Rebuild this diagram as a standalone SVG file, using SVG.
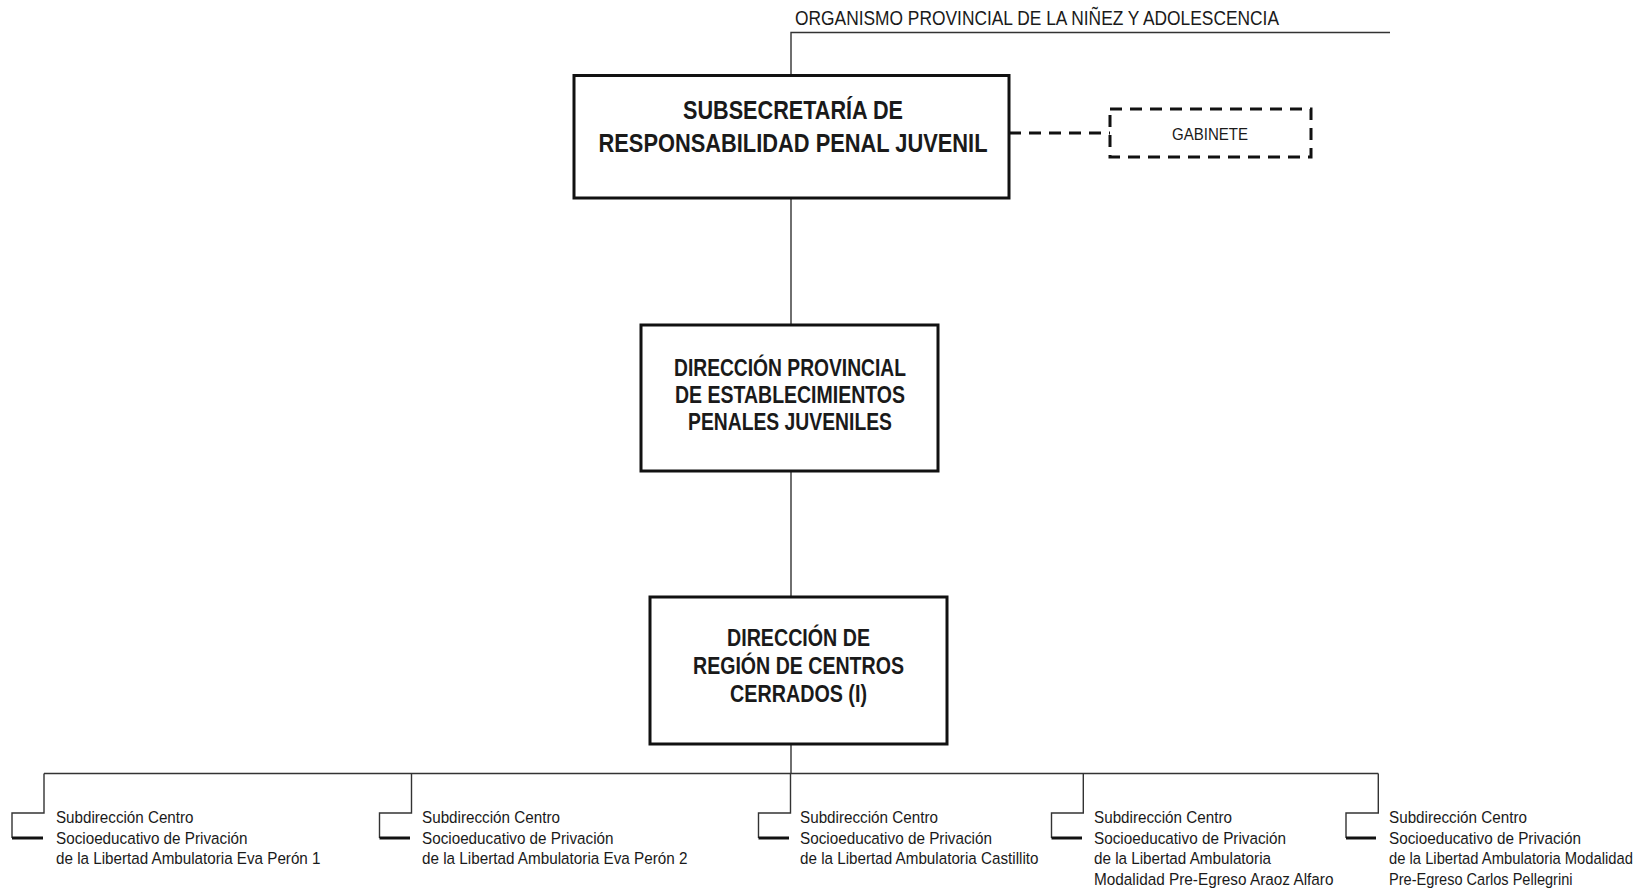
<svg xmlns="http://www.w3.org/2000/svg" width="1645" height="891" viewBox="0 0 1645 891">
<style>
.bg{fill:#ffffff}
.box{fill:#ffffff;stroke:#111;stroke-width:3}
.dbox{fill:#ffffff;stroke:#111;stroke-width:3;stroke-dasharray:12 8}
.ln{fill:none;stroke:#333;stroke-width:1.4}
.dl{fill:none;stroke:#111;stroke-width:3;stroke-dasharray:12 8}
.tk{fill:none;stroke:#111;stroke-width:3}
.t{font-family:"Liberation Sans",Arial,sans-serif;fill:#1a1a1a}
.b{font-family:"Liberation Sans",Arial,sans-serif;font-weight:bold;fill:#1a1a1a;text-anchor:middle}
.s{font-family:"Liberation Sans",Arial,sans-serif;fill:#1a1a1a;font-size:16.8px}
</style>
<rect class="bg" x="0" y="0" width="1645" height="891"/>
<g id="connectors">
  <path class="ln" d="M791,75.5 V32.5 H1390"/>
  <path class="ln" d="M791,198 V325"/>
  <path class="ln" d="M791,471 V597"/>
  <path class="ln" d="M791,744 V773.5"/>
  <path class="dl" d="M1009,133 H1110"/>
  <path class="ln" d="M44,773.5 H1378.3"/>
  <path class="ln" d="M44,773.5 V813 H12 V838"/>
  <path class="tk" d="M12,838 H43"/>
  <path class="ln" d="M411.5,773.5 V813 H379.5 V838"/>
  <path class="tk" d="M379.5,838 H410"/>
  <path class="ln" d="M790.5,773.5 V813 H758.5 V838"/>
  <path class="tk" d="M758.5,838 H789"/>
  <path class="ln" d="M1083.3,773.5 V813 H1051.5 V838"/>
  <path class="tk" d="M1051.5,838 H1082"/>
  <path class="ln" d="M1378.3,773.5 V813 H1346 V838"/>
  <path class="tk" d="M1346,838 H1376"/>
</g>
<g id="organismo">
  <text class="t" x="795" y="25" font-size="20" textLength="484" lengthAdjust="spacingAndGlyphs">ORGANISMO PROVINCIAL DE LA NIÑEZ Y ADOLESCENCIA</text>
</g>
<g id="subsecretaria">
  <rect class="box" x="574" y="75.5" width="435" height="122.5"/>
  <text class="b" x="793" y="118.5" font-size="26" textLength="220" lengthAdjust="spacingAndGlyphs">SUBSECRETARÍA DE</text>
  <text class="b" x="793" y="152" font-size="26" textLength="389" lengthAdjust="spacingAndGlyphs">RESPONSABILIDAD PENAL JUVENIL</text>
</g>
<g id="gabinete">
  <rect class="dbox" x="1110" y="109" width="201" height="48"/>
  <text class="t" x="1210" y="139.5" font-size="16" text-anchor="middle" textLength="76" lengthAdjust="spacingAndGlyphs">GABINETE</text>
</g>
<g id="direccion-provincial">
  <rect class="box" x="641" y="325" width="297" height="146"/>
  <text class="b" x="790" y="375.6" font-size="23" textLength="232" lengthAdjust="spacingAndGlyphs">DIRECCIÓN PROVINCIAL</text>
  <text class="b" x="790" y="403" font-size="23" textLength="230" lengthAdjust="spacingAndGlyphs">DE ESTABLECIMIENTOS</text>
  <text class="b" x="790" y="430" font-size="23" textLength="204" lengthAdjust="spacingAndGlyphs">PENALES JUVENILES</text>
</g>
<g id="direccion-region">
  <rect class="box" x="650" y="597" width="297" height="147"/>
  <text class="b" x="798.5" y="646" font-size="23" textLength="143" lengthAdjust="spacingAndGlyphs">DIRECCIÓN DE</text>
  <text class="b" x="798.5" y="673.5" font-size="23" textLength="211" lengthAdjust="spacingAndGlyphs">REGIÓN DE CENTROS</text>
  <text class="b" x="798.5" y="701.5" font-size="23" textLength="137" lengthAdjust="spacingAndGlyphs">CERRADOS (I)</text>
</g>
<g id="sub1">
  <text class="s" x="56" y="823" textLength="137.5" lengthAdjust="spacingAndGlyphs">Subdirección Centro</text>
  <text class="s" x="56" y="843.5" textLength="191.5" lengthAdjust="spacingAndGlyphs">Socioeducativo de Privación</text>
  <text class="s" x="56" y="864" textLength="264.5" lengthAdjust="spacingAndGlyphs">de la Libertad Ambulatoria Eva Perón 1</text>
</g>
<g id="sub2">
  <text class="s" x="422" y="823" textLength="138" lengthAdjust="spacingAndGlyphs">Subdirección Centro</text>
  <text class="s" x="422" y="843.5" textLength="191.5" lengthAdjust="spacingAndGlyphs">Socioeducativo de Privación</text>
  <text class="s" x="422" y="864" textLength="265.5" lengthAdjust="spacingAndGlyphs">de la Libertad Ambulatoria Eva Perón 2</text>
</g>
<g id="sub3">
  <text class="s" x="800" y="823" textLength="138" lengthAdjust="spacingAndGlyphs">Subdirección Centro</text>
  <text class="s" x="800" y="843.5" textLength="192" lengthAdjust="spacingAndGlyphs">Socioeducativo de Privación</text>
  <text class="s" x="800" y="864" textLength="238.5" lengthAdjust="spacingAndGlyphs">de la Libertad Ambulatoria Castillito</text>
</g>
<g id="sub4">
  <text class="s" x="1094" y="823" textLength="138" lengthAdjust="spacingAndGlyphs">Subdirección Centro</text>
  <text class="s" x="1094" y="843.5" textLength="192" lengthAdjust="spacingAndGlyphs">Socioeducativo de Privación</text>
  <text class="s" x="1094" y="864" textLength="177" lengthAdjust="spacingAndGlyphs">de la Libertad Ambulatoria</text>
  <text class="s" x="1094" y="885" textLength="239.5" lengthAdjust="spacingAndGlyphs">Modalidad Pre-Egreso Araoz Alfaro</text>
</g>
<g id="sub5">
  <text class="s" x="1389" y="823" textLength="138" lengthAdjust="spacingAndGlyphs">Subdirección Centro</text>
  <text class="s" x="1389" y="843.5" textLength="192" lengthAdjust="spacingAndGlyphs">Socioeducativo de Privación</text>
  <text class="s" transform="translate(1389,864) scale(0.88,1)" x="0" y="0">de la Libertad Ambulatoria Modalidad</text>
  <text class="s" x="1389" y="885" textLength="183.5" lengthAdjust="spacingAndGlyphs">Pre-Egreso Carlos Pellegrini</text>
</g>
</svg>
